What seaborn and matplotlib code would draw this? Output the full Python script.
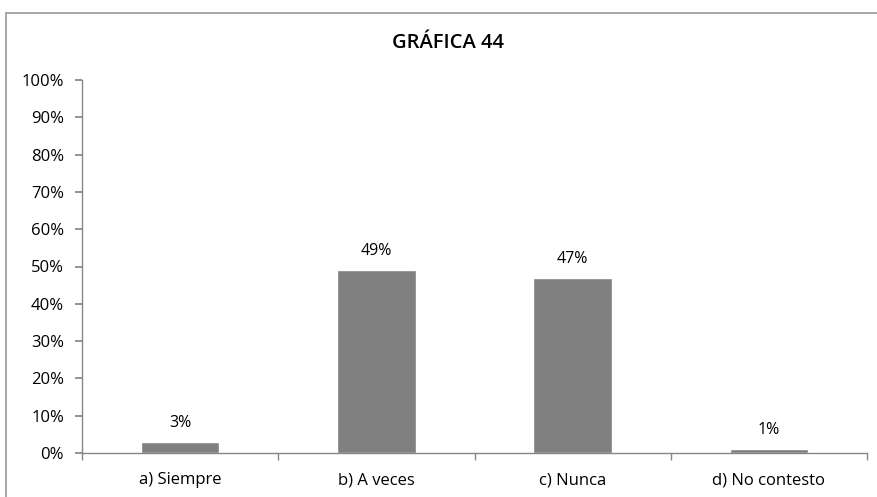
#!/usr/bin/env python3
# GRAFICA 44 - bar chart of survey answers

import pandas as pd
import matplotlib
matplotlib.use('Agg')
import matplotlib.pyplot as plt
import seaborn as sns
from matplotlib.lines import Line2D
from matplotlib.ticker import FuncFormatter, MultipleLocator

# Data
categories = ['a) Siempre', 'b) A veces', 'c) Nunca', 'd) No contesto']
values = [3, 49, 47, 1]
title = 'GRÁFICA 44'

df = pd.DataFrame({'respuesta': categories, 'porcentaje': values})

sns.set_theme(style='white')
plt.rcParams['font.family'] = ['Open Sans', 'DejaVu Sans']

fig = plt.figure(figsize=(8.77, 4.97), dpi=100)
ax = fig.add_axes([82 / 877, 1 - 453 / 497, (867 - 82) / 877, (453 - 80) / 497])

sns.barplot(x='respuesta', y='porcentaje', data=df, color='#808080',
            width=0.4, saturation=1, ax=ax)

# value labels
for i, v in enumerate(values):
    ax.annotate(f'{v}%', (i, v), xytext=(0, 8), textcoords='offset points',
                ha='center', va='bottom', fontsize=11.5, color='#000000')

ax.set_ylim(0, 100)
ax.set_xlim(-0.5, len(categories) - 0.5)
ax.yaxis.set_major_locator(MultipleLocator(10))
ax.yaxis.set_major_formatter(FuncFormatter(lambda y, _: f'{y:.0f}%'))
ax.set_xlabel('')
ax.set_ylabel('')

# spines and ticks like the spreadsheet chart
for side in ['top', 'right']:
    ax.spines[side].set_visible(False)
for side in ['left', 'bottom']:
    ax.spines[side].set_color('#868686')
    ax.spines[side].set_linewidth(1)

ax.set_xticks(range(len(categories)))
ax.set_xticklabels(categories)
ax.set_xticks([x - 0.5 for x in range(len(categories) + 1)], minor=True)
ax.tick_params(axis='x', which='major', length=0, pad=14, labelsize=12, colors='#000000')
ax.tick_params(axis='x', which='minor', bottom=True, length=5, color='#868686', direction='out')
ax.tick_params(axis='y', left=True, length=5, color='#868686', direction='out',
               labelsize=12, pad=8, labelcolor='#000000')

# title
fig.text(448 / 877, 1 - 43 / 497, title, ha='center', va='center',
         fontsize=14.5, fontweight='semibold', color='#000000')

# chart area border (left and top visible)
fig.add_artist(Line2D([6 / 877, 6 / 877], [0, 1 - 13 / 497],
                      transform=fig.transFigure, color='#9a9a9a', lw=1.2))
fig.add_artist(Line2D([6 / 877, 1], [1 - 13 / 497, 1 - 13 / 497],
                      transform=fig.transFigure, color='#9a9a9a', lw=1.2))

plt.savefig('out.png', dpi=100)
